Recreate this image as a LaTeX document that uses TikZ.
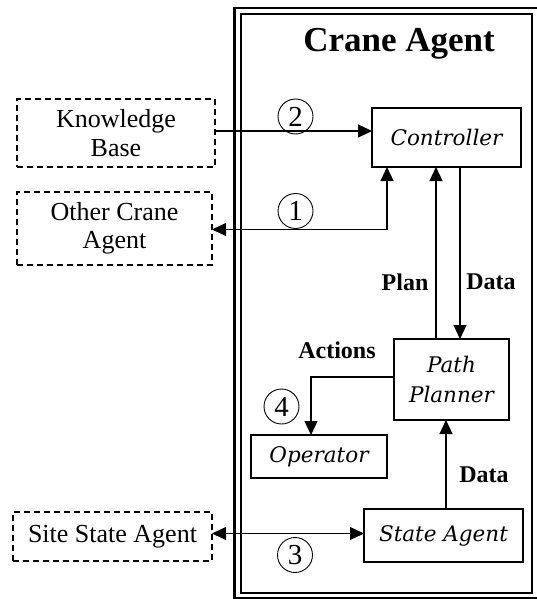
\documentclass[tikz,border=0pt]{standalone}
\usepackage{fontspec}
\setmainfont{Liberation Serif}
\newfontfamily\boxfont{DejaVu Serif}
\usepackage{tikz}
\usetikzlibrary{arrows.meta,positioning,calc}

\begin{document}
\begin{tikzpicture}[x=1pt, y=-1pt, line width=1.2pt,
    every node/.style={inner sep=0pt, outer sep=0pt, font=\fontsize{26}{28.5}\selectfont},
    extbox/.style={draw, dashed, dash pattern=on 6pt off 4pt, align=center},
    agentbox/.style={draw, align=center, font=\boxfont\itshape\fontsize{21.5}{30}\selectfont},
    flowlabel/.style={font=\bfseries\fontsize{24}{28}\selectfont},
    stepnum/.style={draw, circle, line width=0.9pt, minimum size=35pt, font=\fontsize{29}{29}\selectfont},
    arr/.style={-{Triangle[length=14pt,width=13pt]}},
    arrboth/.style={{Triangle[length=14pt,width=13pt]}-{Triangle[length=14pt,width=13pt]}}]
    \useasboundingbox (0,0) rectangle (537,599);
    \draw[line width=2.2pt] (234.5,8) rectangle (548,598);
    \draw[line width=2pt] (240.5,14.5) rectangle (532,592.5);
    \node[anchor=base, font=\bfseries\fontsize{35}{40}\selectfont] (title) at (399,52) {Crane Agent};

    \node[extbox, minimum width=198pt, minimum height=68pt] (kb) at (116,133) {Knowledge\\Base};
    \node[extbox, minimum width=195pt, minimum height=73pt] (oca) at (114.5,228.5) {Other Crane\\Agent};
    \node[extbox, minimum width=199pt, minimum height=49pt] (ssa) at (112.5,536.5) {Site State Agent};

    \node[agentbox, minimum width=149pt, minimum height=59pt] (ctrl) at (446.5,137.5) {Controller};
    \node[agentbox, minimum width=115pt, minimum height=81pt] (pp) at (451.5,379.5) {Path\\Planner};
    \node[agentbox, minimum width=136pt, minimum height=43pt] (op) at (319,456.5) {Operator};
    \node[agentbox, minimum width=159pt, minimum height=53pt] (sa) at (443.5,535.5) {State Agent};

    \draw[arr] ([yshift=2pt]kb.east) -- ([yshift=2pt]kb.east -| ctrl.west);
    \draw[arrboth] ([xshift=-59.5pt]ctrl.south) |- ([yshift=-1pt]oca.east);
    \draw[arr] ([xshift=-15.5pt]pp.north) -- ([xshift=-15.5pt]pp.north |- ctrl.south);
    \draw[arr] ([xshift=8.5pt]pp.north |- ctrl.south) -- ([xshift=8.5pt]pp.north);
    \draw[arr] ([yshift=2.5pt]pp.west) -| ([xshift=-8pt]op.north);
    \draw[arr] ([xshift=2.5pt]sa.north) -- ([xshift=2.5pt]sa.north |- pp.south);
    \draw[arrboth] ([yshift=3pt]ssa.east) -- ([yshift=3pt]ssa.east -| sa.west);

    \node[flowlabel] (plan) at (405,282) {Plan};
    \node[flowlabel] (dataup) at (491,282) {Data};
    \node[flowlabel] (actions) at (337,350) {Actions};
    \node[flowlabel] (datalow) at (484,475) {Data};

    \node[stepnum] (s2) at (295.5,116.5) {2};
    \node[stepnum] (s1) at (295.5,211) {1};
    \node[stepnum] (s4) at (281.5,406.5) {4};
    \node[stepnum] (s3) at (295,555) {3};
\end{tikzpicture}
\end{document}
